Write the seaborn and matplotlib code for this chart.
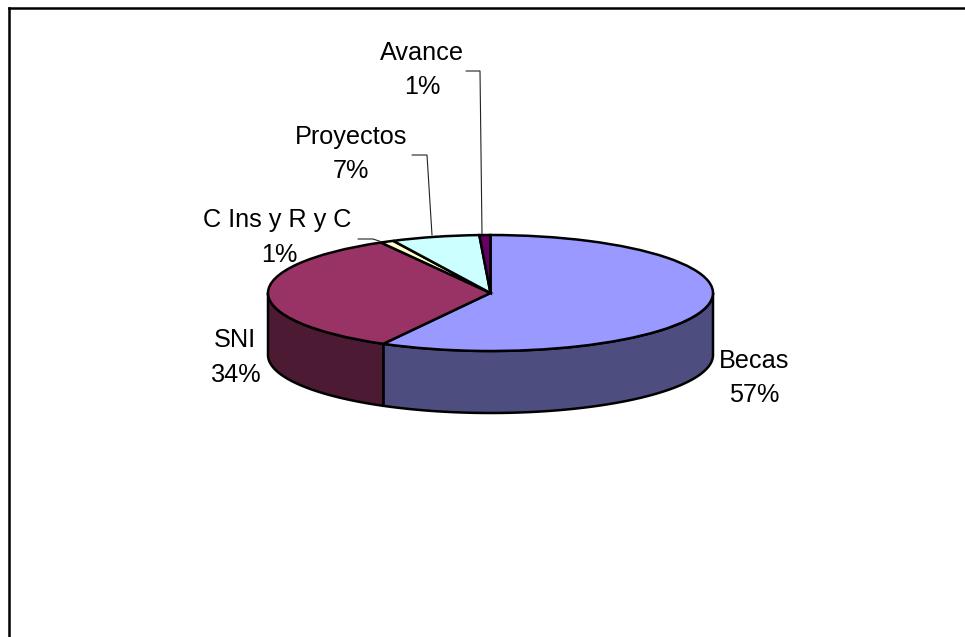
#!/usr/bin/env python3
"""Tilted pie chart of the budget shares, drawn with a flattened ax.pie."""

import matplotlib
matplotlib.use("Agg")

import matplotlib.pyplot as plt
import numpy as np
import seaborn as sns

names = ["Becas", "SNI", "C Ins y R y C", "Proyectos", "Avance"]
shares = [58.0, 33.8, 1.0, 6.4, 0.8]
pct_labels = ["57%", "34%", "1%", "7%", "1%"]
top_colors = ["#9999FF", "#993366", "#FFFFCC", "#CCFFFF", "#660066"]

W, H = 965, 637
LEFT, TOP = 9, 8
CX, CY, RX, RY = 490.5, 293, 222.5, 58
DEPTH = 62 / RY


def ux(px):
    return (px - CX) / RX


def uy(py):
    return (CY - py) / RY


sns.set_theme(style="white")
plt.rcParams["font.family"] = ["Liberation Sans", "DejaVu Sans"]

fig = plt.figure(figsize=(W / 100, H / 100), dpi=100, facecolor="white")
ax = fig.add_axes([LEFT / W, 0, (W - LEFT) / W, (H - TOP) / H])

# side wall first, only the part of each slice that faces the viewer
edges = np.concatenate([[0], np.cumsum(shares)]) / sum(shares) * 360
for i, color in enumerate(top_colors):
    a0, a1 = max(edges[i], 90), min(edges[i + 1], 270)
    if a0 >= a1:
        continue
    t = np.radians(np.linspace(a0, a1, 120))
    xs = np.concatenate([np.sin(t), np.sin(t)[::-1]])
    ys = np.concatenate([np.cos(t), np.cos(t)[::-1] - DEPTH])
    dark = tuple(c * 0.5 for c in matplotlib.colors.to_rgb(color))
    ax.fill(xs, ys, facecolor=dark, edgecolor="black", linewidth=1.8, joinstyle="round")

ax.pie(
    shares,
    colors=top_colors,
    startangle=90,
    counterclock=False,
    radius=1,
    wedgeprops={"edgecolor": "black", "linewidth": 1.8},
)

ax.set_aspect("auto")
ax.set_xlim(ux(LEFT), ux(W))
ax.set_ylim(uy(H), uy(TOP))
ax.set_frame_on(True)
sns.despine(ax=ax, top=False, right=True, left=False, bottom=True)
for side in ["top", "left"]:
    ax.spines[side].set_linewidth(1.8)
    ax.spines[side].set_color("black")

# labels, each line placed by pixel position
label_spots = {
    "Becas": ((754, 361), (754, 395)),
    "SNI": ((235, 340), (236, 375)),
    "C Ins y R y C": ((277, 220), (279, 255)),
    "Proyectos": ((351, 137), (351, 171)),
    "Avance": ((422, 53), (422, 87)),
}
for name, pct in zip(names, pct_labels):
    (x1, y1), (x2, y2) = label_spots[name]
    ax.text(ux(x1), uy(y1), name, ha="center", va="center", fontsize=18.2, color="black")
    ax.text(ux(x2), uy(y2), pct, ha="center", va="center", fontsize=18.2, color="black")

# leader lines for the small back slices
leaders = [
    ([466, 480, 482], [71, 71, 234]),
    ([412, 427, 432], [155, 155, 235]),
    ([358, 373, 382], [239, 239, 242]),
]
for lx, ly in leaders:
    ax.plot(ux(np.array(lx)), uy(np.array(ly)), color="#222222", linewidth=0.8)

fig.savefig("out.png", dpi=100, facecolor="white")
plt.close(fig)
